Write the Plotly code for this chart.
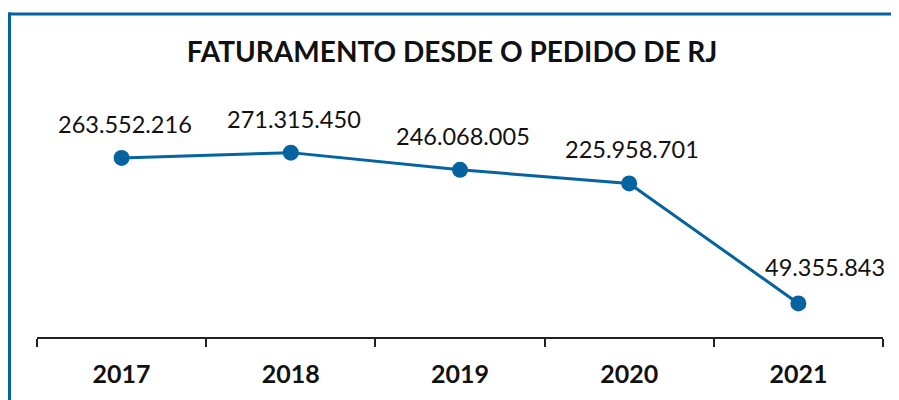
import plotly.graph_objects as go

anos = ["2017", "2018", "2019", "2020", "2021"]
faturamento = [263552216, 271315450, 246068005, 225958701, 49355843]
rotulos = ["263.552.216", "271.315.450", "246.068.005", "225.958.701", "49.355.843"]

azul = "#0563A0"

# page body has an 8px margin, so the figure is drawn 8px smaller
OFF = 8
FW, FH = 899 - OFF, 400 - OFF
# plot area in reference pixels: x 37..883, y 100..341
L, T, W, H = 37 - OFF, 100 - OFF, 846, 241

fig = go.Figure()
fig.add_trace(go.Scatter(
    x=anos, y=faturamento,
    mode="lines+markers",
    line=dict(color=azul, width=3),
    marker=dict(color=azul, size=16),
    cliponaxis=False,
    hoverinfo="skip",
))

# category axis: annotations placed by category index ("2017" would be read as a number)
for i, (valor, rotulo) in enumerate(zip(faturamento, rotulos)):
    ultimo = i == len(anos) - 1
    fig.add_annotation(x=i, y=valor, text=rotulo, showarrow=False,
                       yanchor="bottom", yshift=20 if ultimo else 18,
                       xshift=27 if ultimo else 3,  # last label sits right of the line
                       font=dict(family="Lato", size=23.5, color="#111111"))


def px_x(p):
    return (p - OFF - L) / W


def px_y(p):
    return (T + H - (p - OFF)) / H


# moldura azul (esquerda + topo)
fig.add_shape(type="line", xref="paper", yref="paper",
              x0=px_x(9.5), x1=px_x(9.5), y0=px_y(11), y1=px_y(420),
              line=dict(color=azul, width=3))
fig.add_shape(type="line", xref="paper", yref="paper",
              x0=px_x(8), x1=px_x(920), y0=px_y(12.5), y1=px_y(12.5),
              line=dict(color=azul, width=3))

fig.update_layout(
    width=FW, height=FH,
    margin=dict(l=L, r=FW - L - W, t=T, b=FH - T - H),
    paper_bgcolor="white", plot_bgcolor="white",
    showlegend=False,
    title=dict(text="<b>FATURAMENTO DESDE O PEDIDO DE RJ</b>",
               x=(452 - OFF) / FW, xanchor="center", y=1 - (52 - OFF) / FH, yanchor="middle",
               font=dict(family="Lato", size=28, color="#111111")),
)
fig.update_xaxes(
    type="category", range=[-0.5, 4.5],
    showline=True, linecolor="#222222", linewidth=1.5,
    ticks="outside", tickson="boundaries", ticklen=8, tickcolor="#222222", tickwidth=1.5,
    tickfont=dict(family="Lato", size=25, color="#111111"),
    tickprefix="<b>", ticksuffix="</b>", ticklabelstandoff=14,
    showgrid=False, zeroline=False,
)
fig.update_yaxes(
    range=[0, 241 / 0.691e-6], visible=False, showgrid=False, zeroline=False,
)

fig.write_html("out.html")
